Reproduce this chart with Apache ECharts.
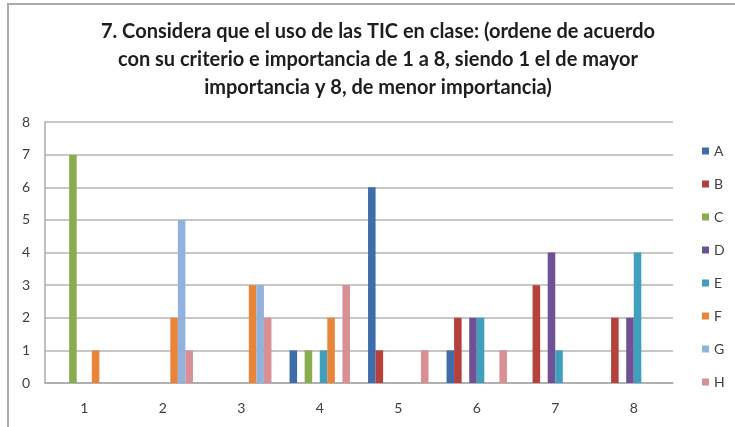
<!DOCTYPE html>
<html lang="es">
<head>
    <meta charset="UTF-8">
    <title>Uso de las TIC en clase</title>
    <script src="https://cdn.jsdelivr.net/npm/echarts@6.0.0/dist/echarts.min.js"></script>
    <style>
        body { margin: 0; background: #fff; }
        #frame { position: absolute; left: 7px; top: 3px; width: 728px; height: 424px;
                 border-top: 2px solid #a9a9a9; border-left: 2px solid #a9a9a9; pointer-events: none; }
    </style>
</head>
<body>
<div id="chart" style="width: 735px; height: 427px;"></div>
<div id="frame"></div>
<script type="text/javascript">
    // datos
    var categories = ['1', '2', '3', '4', '5', '6', '7', '8'];
    var seriesNames = ['A', 'B', 'C', 'D', 'E', 'F', 'G', 'H'];
    var valuesA = [0, 0, 0, 1, 6, 1, 0, 0];
    var valuesB = [0, 0, 0, 0, 1, 2, 3, 2];
    var valuesC = [7, 0, 0, 1, 0, 0, 0, 0];
    var valuesD = [0, 0, 0, 0, 0, 2, 4, 2];
    var valuesE = [0, 0, 0, 1, 0, 2, 1, 4];
    var valuesF = [1, 2, 3, 2, 0, 0, 0, 0];
    var valuesG = [0, 5, 3, 0, 0, 0, 0, 0];
    var valuesH = [0, 1, 2, 3, 1, 1, 0, 0];
    var yTicks = [0, 1, 2, 3, 4, 5, 6, 7, 8];

    var allValues = [valuesA, valuesB, valuesC, valuesD, valuesE, valuesF, valuesG, valuesH];
    var colors = ['#3f6dab', '#b5403c', '#8aab4e', '#6f5195', '#3f9fbd', '#e8853a', '#93b1dd', '#d99095'];

    var myChart = echarts.init(document.getElementById('chart'));

    var series = [];
    for (var i = 0; i < seriesNames.length; i++) {
        series.push({
            name: seriesNames[i],
            type: 'bar',
            data: allValues[i],
            barGap: '0%',
            barCategoryGap: '23%',
            itemStyle: { color: colors[i] }
        });
    }

    var option = {
        animation: false,
        title: {
            text: '7. Considera que el uso de las TIC en clase: (ordene de acuerdo\ncon su criterio e importancia de 1 a 8, siendo 1 el de mayor\nimportancia y 8, de menor importancia)',
            left: 378,
            textAlign: 'center',
            top: 18,
            padding: 0,
            textStyle: {
                fontFamily: 'Lato',
                fontWeight: 'bold',
                fontSize: 20,
                lineHeight: 28,
                color: '#1e1e1e'
            }
        },
        legend: {
            orient: 'vertical',
            left: 697,
            top: 139,
            icon: 'rect',
            itemWidth: 7,
            itemHeight: 7,
            itemGap: 19,
            data: seriesNames,
            textStyle: { fontFamily: 'Lato', fontSize: 14, color: '#404040', lineHeight: 14 }
        },
        grid: {
            left: 45,
            right: 62,
            top: 122,
            bottom: 44,
            containLabel: false,
            outerBoundsMode: 'none'
        },
        xAxis: {
            type: 'category',
            data: categories,
            axisTick: { show: false },
            axisLine: { lineStyle: { color: '#aaaaaa', width: 1.5 } },
            axisLabel: { margin: 18, fontFamily: 'Lato', fontSize: 14, color: '#404040' }
        },
        yAxis: {
            type: 'value',
            min: yTicks[0],
            max: yTicks[yTicks.length - 1],
            interval: 1,
            axisLine: { show: true, lineStyle: { color: '#aaaaaa', width: 1.5 } },
            axisTick: { show: false },
            axisLabel: { margin: 15, fontFamily: 'Lato', fontSize: 14, color: '#404040' },
            splitLine: { lineStyle: { color: '#b4b4b4', width: 1.5 } }
        },
        series: series
    };

    myChart.setOption(option);
</script>
</body>
</html>
